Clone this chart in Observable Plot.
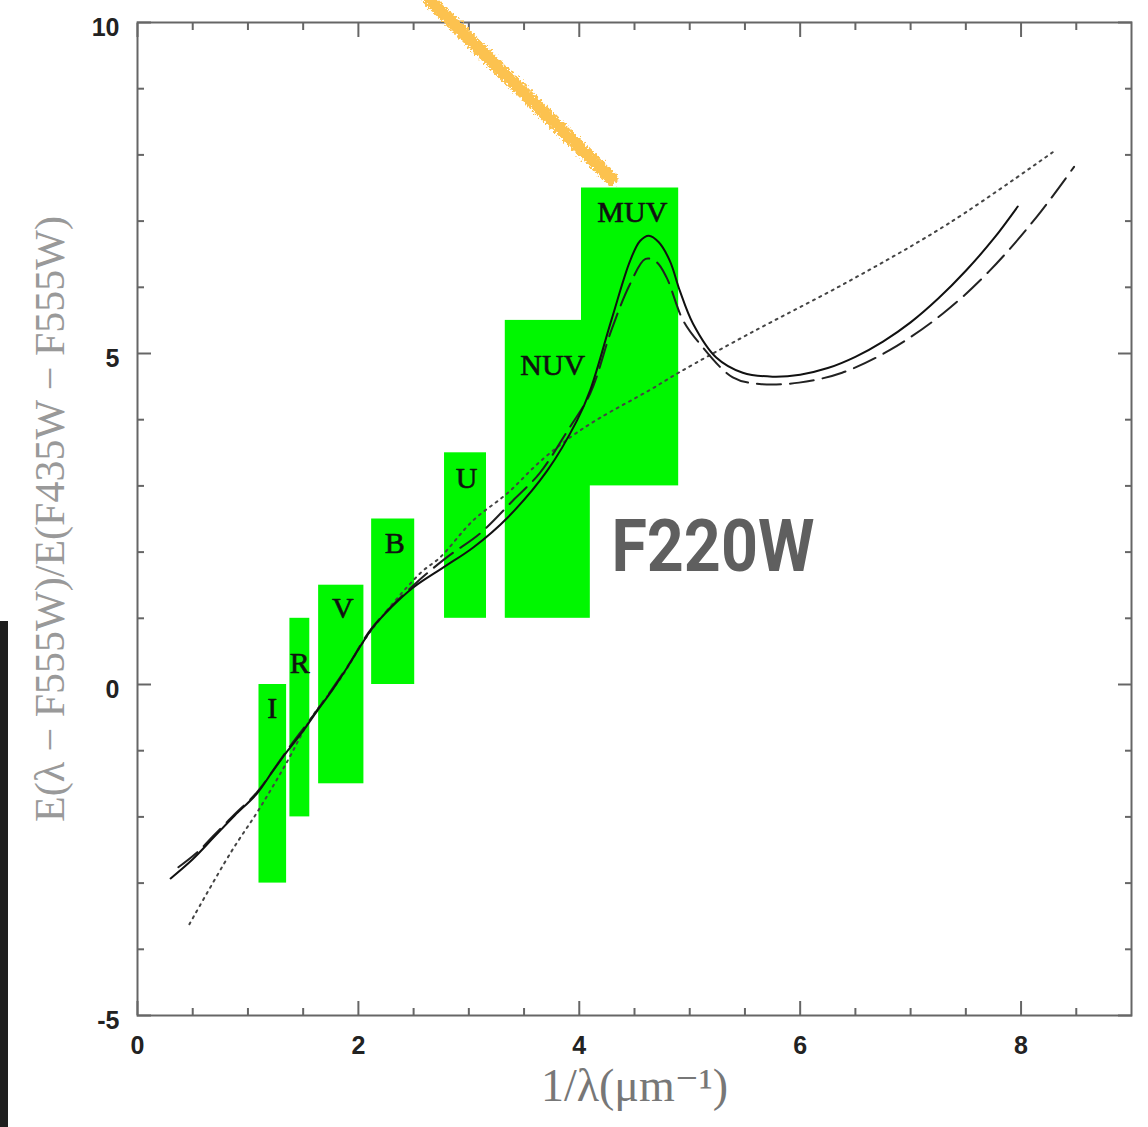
<!DOCTYPE html>
<html>
<head>
<meta charset="utf-8">
<script src="https://cdn.jsdelivr.net/npm/d3@7"></script>
<script src="https://cdn.jsdelivr.net/npm/@observablehq/plot@0.6"></script>
<style>
  html, body { margin: 0; padding: 0; background: #fff; }
  #wrap { position: relative; width: 1148px; height: 1127px; overflow: hidden; }
  #bar { position: absolute; left: 0; top: 621px; width: 8px; height: 506px; background: #1f1f1f; }
</style>
</head>
<body>
<div id="wrap"><div id="chart"></div><div id="bar"></div></div>
<script>
// ---- data ----
const bandNames = ["I", "R", "V", "B", "U", "NUV", "MUV"];
const bandX1 = [1.10, 1.38, 1.64, 2.12, 2.78, 3.33, 4.02];
const bandX2 = [1.35, 1.56, 2.05, 2.51, 3.16, 4.10, 4.90];
const bandY1 = [-3.0, -2.0, -1.5, 0.0, 1.0, 1.0, 3.0];
const bandY2 = [0.0, 1.0, 1.5, 2.5, 3.5, 5.5, 7.5];
const bandLabelX = [1.22, 1.47, 1.86, 2.33, 2.98, 3.76, 4.48];
const bandLabelY = [-0.36, 0.32, 1.15, 2.13, 3.11, 4.82, 7.13];

const solidX = [0.30, 0.50, 0.69, 0.88, 1.08, 1.22, 1.36, 1.50, 1.63, 1.77, 1.90, 2.13, 2.30, 2.50, 2.77, 3.04, 3.35, 3.71, 3.98, 4.10, 4.29, 4.46, 4.55, 4.63, 4.72, 4.82, 4.91, 5.03, 5.24, 5.48, 5.75, 6.00, 6.25, 6.50, 6.75, 7.00, 7.25, 7.50, 7.75, 7.97];
const solidY = [-2.93, -2.64, -2.31, -1.98, -1.65, -1.32, -1.00, -0.70, -0.39, -0.07, 0.26, 0.86, 1.17, 1.47, 1.77, 2.07, 2.52, 3.23, 3.99, 4.45, 5.50, 6.40, 6.70, 6.78, 6.68, 6.40, 5.95, 5.45, 4.94, 4.71, 4.65, 4.68, 4.78, 4.95, 5.18, 5.47, 5.83, 6.25, 6.73, 7.22];

const dashX = [0.37, 0.55, 0.69, 0.88, 1.08, 1.36, 1.63, 1.90, 2.13, 2.50, 2.80, 3.10, 3.40, 3.64, 3.90, 4.10, 4.29, 4.46, 4.60, 4.70, 4.79, 4.94, 5.09, 5.39, 5.63, 5.99, 6.38, 6.81, 7.29, 7.71, 8.14, 8.48];
const dashY = [-2.76, -2.52, -2.28, -1.96, -1.63, -0.98, -0.38, 0.27, 0.87, 1.50, 1.92, 2.28, 2.78, 3.19, 3.85, 4.40, 5.35, 6.05, 6.43, 6.38, 6.15, 5.50, 5.15, 4.64, 4.54, 4.56, 4.71, 5.05, 5.60, 6.24, 7.06, 7.82];

const dotX = [0.47, 0.84, 1.11, 1.36, 1.56, 1.85, 2.10, 2.56, 2.74, 3.04, 3.35, 3.64, 3.94, 4.19, 4.64, 4.91, 5.54, 6.45, 7.35, 8.32];
const dotY = [-3.62, -2.55, -1.86, -1.15, -0.54, 0.12, 0.78, 1.68, 1.92, 2.48, 2.89, 3.36, 3.76, 4.03, 4.45, 4.72, 5.30, 6.10, 6.97, 8.08];

const xMajor = [0, 2, 4, 6, 8];
const xMinor = [0.5, 1, 1.5, 2.5, 3, 3.5, 4.5, 5, 5.5, 6.5, 7, 7.5, 8.5];
const yMajor = [-5, 0, 5, 10];
const yMinor = [-4, -3, -2, -1, 1, 2, 3, 4, 6, 7, 8, 9];

const xTitle = "1/λ(μm⁻¹)";
const yTitle = "E(λ − F555W)/E(F435W − F555W)";
const noteText = "F220W";
const noteX = [5.21];
const noteY = [2.07];
const strokeX = [2.65, 4.29];
const strokeY = [10.33, 7.64];

// ---- tables ----
const bands = bandNames.map((n, i) => ({name: n, x1: bandX1[i], x2: bandX2[i], y1: bandY1[i], y2: bandY2[i], lx: bandLabelX[i], ly: bandLabelY[i]}));
const solid = solidX.map((x, i) => ({x, y: solidY[i]}));
const dashed = dashX.map((x, i) => ({x, y: dashY[i]}));
const dotted = dotX.map((x, i) => ({x, y: dotY[i]}));
const orange = strokeX.map((x, i) => ({x, y: strokeY[i]}));

const tickColor = "#666";
const blank = () => "";
const plain = d => `${d}`;
const serif = "'Liberation Serif', 'DejaVu Serif', serif";

const chart = Plot.plot({
  width: 1148,
  height: 1127,
  marginLeft: 137,
  marginRight: 17,
  marginTop: 22,
  marginBottom: 112,
  x: {domain: [0, 9]},
  y: {domain: [-5, 10]},
  style: {background: "white", fontFamily: "'Liberation Sans', Arial, sans-serif"},
  marks: [
    Plot.rect(bands, {x1: "x1", x2: "x2", y1: "y1", y2: "y2", fill: "#00f700"}),
    Plot.line(dotted, {x: "x", y: "y", curve: "catmull-rom", stroke: "#444", strokeWidth: 2, strokeDasharray: "2,5"}),
    Plot.line(dashed, {x: "x", y: "y", curve: "catmull-rom", stroke: "#222", strokeWidth: 2, strokeDasharray: "24,9"}),
    Plot.line(solid, {x: "x", y: "y", curve: "catmull-rom", stroke: "#111", strokeWidth: 2}),
    Plot.text(bands, {x: "lx", y: "ly", text: "name", fontFamily: serif, fontSize: 30, fill: "#111", stroke: "#111", strokeWidth: 0.6}),
    Plot.frame({stroke: tickColor, strokeWidth: 2}),
    // inward ticks on all four sides
    Plot.axisX(xMajor, {anchor: "bottom", tickSize: -14, tickFormat: blank, label: null, stroke: tickColor, strokeWidth: 2}),
    Plot.axisX(xMinor, {anchor: "bottom", tickSize: -7, tickFormat: blank, label: null, stroke: tickColor, strokeWidth: 2}),
    Plot.axisX(xMajor, {anchor: "top", tickSize: -14, tickFormat: blank, label: null, stroke: tickColor, strokeWidth: 2}),
    Plot.axisX(xMinor, {anchor: "top", tickSize: -7, tickFormat: blank, label: null, stroke: tickColor, strokeWidth: 2}),
    Plot.axisY(yMajor, {anchor: "left", tickSize: -14, tickFormat: blank, label: null, stroke: tickColor, strokeWidth: 2}),
    Plot.axisY(yMinor, {anchor: "left", tickSize: -7, tickFormat: blank, label: null, stroke: tickColor, strokeWidth: 2}),
    Plot.axisY(yMajor, {anchor: "right", tickSize: -14, tickFormat: blank, label: null, stroke: tickColor, strokeWidth: 2}),
    Plot.axisY(yMinor, {anchor: "right", tickSize: -7, tickFormat: blank, label: null, stroke: tickColor, strokeWidth: 2}),
    // tick labels
    Plot.axisX(xMajor, {anchor: "bottom", tickSize: 0, tickPadding: 21, tickFormat: plain, label: null, fontSize: 25, fontWeight: "bold", fill: "#222"}),
    Plot.axisY(yMajor, {anchor: "left", tickSize: 0, tickPadding: 18, tickFormat: plain, label: null, fontSize: 25, fontWeight: "bold", fill: "#222", dy: 5}),
    // axis titles
    Plot.text([xTitle], {frameAnchor: "bottom", dy: 85, fontFamily: serif, fontSize: 46, fill: "#777"}),
    Plot.text([yTitle], {frameAnchor: "left", dx: -87, rotate: -90, textAnchor: "middle", fontFamily: serif, fontSize: 42, fill: "#999"}),
    // annotation
    Plot.text([noteText], {x: noteX, y: noteY, text: d => d, fontFamily: "Roboto, 'Liberation Sans', sans-serif", fontWeight: "bold", fontSize: 72, fill: "#5f5f5f"}),
    Plot.line(orange, {x: "x", y: "y", stroke: "#fcc250", strokeWidth: 13, strokeLinecap: "round", clip: false})
  ]
});

// rough "marker" texture for the orange stroke
const ns = "http://www.w3.org/2000/svg";
const defs = document.createElementNS(ns, "defs");
defs.innerHTML = '<filter id="rough" x="-20%" y="-20%" width="140%" height="140%"><feTurbulence type="fractalNoise" baseFrequency="0.45" numOctaves="2" seed="3" result="n"/><feDisplacementMap in="SourceGraphic" in2="n" scale="9" xChannelSelector="R" yChannelSelector="G"/></filter>';
chart.insertBefore(defs, chart.firstChild);
chart.querySelectorAll("path").forEach(p => {
  const g = p.closest("g");
  if ((p.getAttribute("stroke") || (g && g.getAttribute("stroke"))) === "#fcc250") p.setAttribute("filter", "url(#rough)");
});
chart.querySelectorAll("text").forEach(t => {
  if (t.textContent === noteText) {
    t.setAttribute("textLength", "203");
    t.setAttribute("lengthAdjust", "spacingAndGlyphs");
  }
});
chart.style.overflow = "visible";
document.getElementById("chart").appendChild(chart);
</script>
</body>
</html>
